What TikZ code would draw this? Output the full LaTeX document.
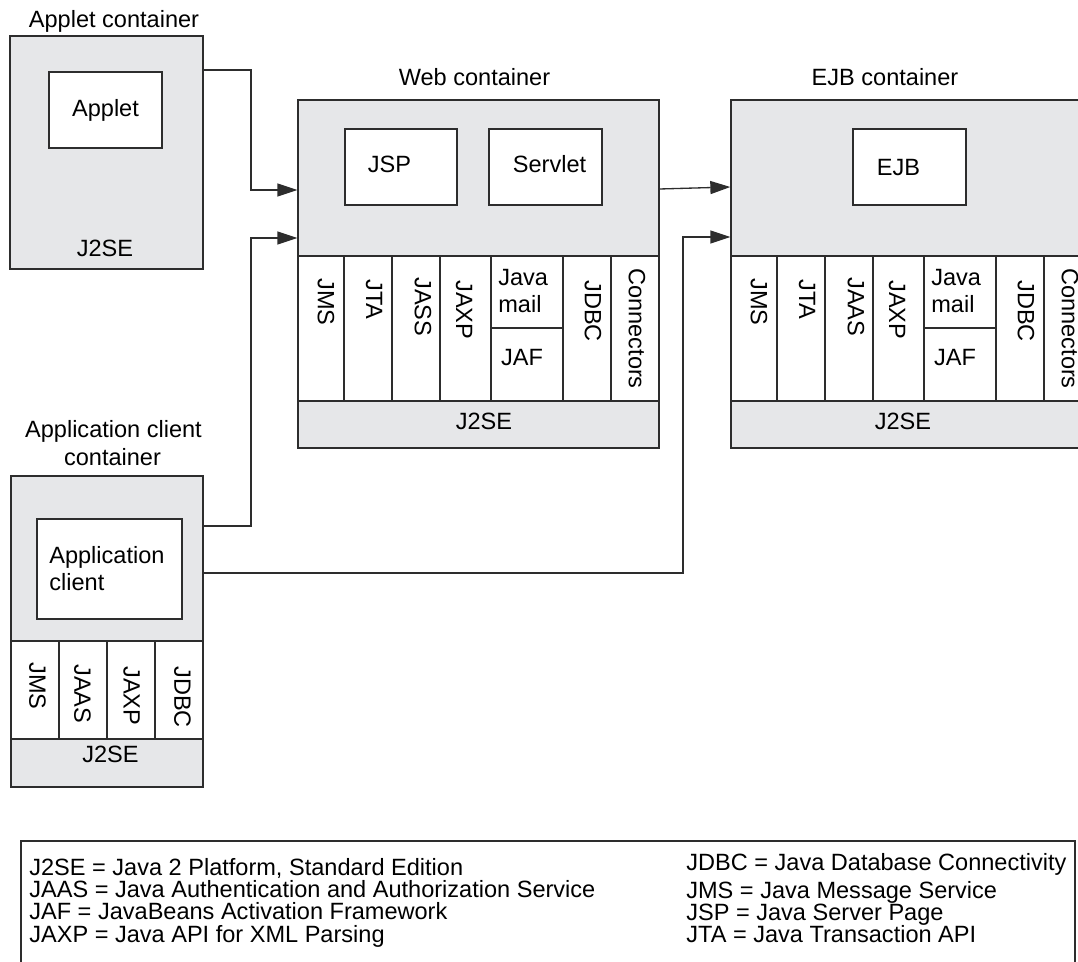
\documentclass[tikz,border=0pt]{standalone}
\usepackage{fontspec}
\setmainfont{Liberation Sans}
\usetikzlibrary{arrows.meta,fit,positioning}
\definecolor{boxgray}{RGB}{230,231,233}
\definecolor{linegray}{RGB}{45,45,45}

\begin{document}
\begin{tikzpicture}[x=0.02cm,y=-0.02cm,
    font=\fontsize{13.4}{16}\selectfont,
    cont/.style={draw=linegray,fill=boxgray,line width=0.75pt,inner sep=0pt},
    inbox/.style={draw=linegray,fill=white,line width=0.75pt,inner sep=0pt},
    txt/.style={anchor=base,inner sep=0pt},
    ltxt/.style={anchor=base west,inner sep=0pt},
    vtxt/.style={rotate=-90,anchor=west,inner sep=0pt},
    conn/.style={draw=linegray,line width=0.75pt},
    arr/.style={conn,-{Triangle[length=0.4cm,width=0.26cm]}}]
  \useasboundingbox (0,0) rectangle (1078,962);
  \clip (0,0) rectangle (1078,962);

  % applet container
  \node[cont,fit={(10,36)(203,269)}](applet){};
  \node[txt](appletlbl)at(114,28){Applet container};
  \node[inbox,fit={(49,72)(162,148)}](appletbox){};
  \node[txt](applettxt)at(105.5,117){Applet};
  \node[txt](appletse)at(105,257){J2SE};

  % web and EJB containers
  \foreach \c/\dx/\sec/\lx/\sx/\name in {web/0/JASS/474.5/484/Web, ejb/433/JAAS/452/470/EJB}{
    \begin{scope}[shift={(\dx,0)}]
      \node[cont,fit={(298,100)(659,448)}](\c){};
      \node[txt](\c-lbl)at(\lx,86){\name{} container};
      \node[inbox,fit={(298,256)(659,401)}](\c-api){};
      \foreach \d in {344,392,440,491,563,611}
        \draw[conn](\c-api.north -| \d,0)--(\c-api.south -| \d,0);
      \draw[conn](491,328)--(563,328);
      \foreach \tx/\ty/\t in {326/278/JMS, 374/279/JTA, 423/277/\sec, 464/280/JAXP, 593/280/JDBC, 637/268/Connectors}
        \node[vtxt](\c-\t)at(\tx,\ty){\t};
      \node[ltxt](\c-java)at(498,286){Java};
      \node[ltxt](\c-mail)at(498,313){mail};
      \node[txt](\c-jaf)at(522,366){JAF};
      \node[txt](\c-se)at(\sx,430){J2SE};
    \end{scope}
  }
  \node[inbox,fit={(345,129)(457,205)}](jsp){};
  \node[txt](jsptxt)at(389.5,173){JSP};
  \node[inbox,fit={(489,129)(602,205)}](servlet){};
  \node[txt](servlettxt)at(549.5,173){Servlet};
  \node[inbox,fit={(853,129)(966,205)}](ejbbox){};
  \node[txt](ejbtxt)at(898.5,176){EJB};

  % application client container
  \node[cont,fit={(11,476)(203,787)}](client){};
  \node[txt](clientlbl)at(113.5,438){Application client};
  \node[txt](clientlbl2)at(112.5,465){container};
  \node[inbox,fit={(37,519)(182,619)}](clientbox){};
  \node[ltxt](clienttxt)at(49,563){Application};
  \node[ltxt](clienttxt2)at(49,590){client};
  \node[inbox,fit={(11,641)(203,739)}](client-api){};
  \foreach \d in {59,107,155}
    \draw[conn](client-api.north -| \d,0)--(client-api.south -| \d,0);
  \foreach \tx/\ty/\t in {37.5/662/JMS, 82.5/664/JAAS, 131.5/666/JAXP, 182.5/666/JDBC}
    \node[vtxt](client-\t)at(\tx,\ty){\t};
  \node[txt](clientse)at(110.5,762){J2SE};

  % connectors
  \draw[arr](applet.east |- 0,70) -| (251,190) -- (web.west |- 0,190);
  \draw[arr](client.east |- 0,526) -| (251,238) -- (web.west |- 0,238);
  \draw[arr](client.east |- 0,573) -| (683,237) -- (ejb.west |- 0,237);
  \draw[arr](web.east |- 0,189) -- (ejb.west |- 0,187);

  % legend
  \node[draw=linegray,line width=0.75pt,inner sep=0pt,fit={(21,841)(1075,985)}](legend){};
  \foreach \t [count=\i from 0] in {{J2SE = Java 2 Platform, Standard Edition},
      JAAS = Java Authentication and Authorization Service,
      JAF = JavaBeans Activation Framework,
      JAXP = Java API for XML Parsing}
    \node[ltxt](legl\i)at(29,{875+22.4*\i}){\t};
  \foreach \t/\y [count=\i] in {JDBC = Java Database Connectivity/870,
      JMS = Java Message Service/898,
      JSP = Java Server Page/920,
      JTA = Java Transaction API/942}
    \node[ltxt](legr\i)at(686,\y){\t};
\end{tikzpicture}
\end{document}
